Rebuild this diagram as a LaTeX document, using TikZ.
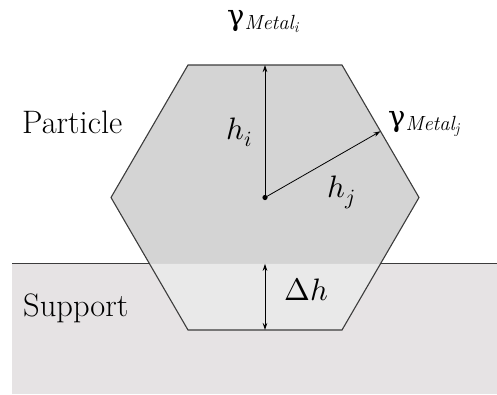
\documentclass[tikz,border=0pt]{standalone}
\usepackage{unicode-math}
\setmathfont{Latin Modern Math}
\newfontfamily\grego{DejaVu Serif}
\usetikzlibrary{arrows.meta,calc}

\definecolor{partcol}{HTML}{D4D4D4}
\definecolor{partlow}{HTML}{E9E9E9}
\definecolor{supcol}{HTML}{E6E3E4}
\definecolor{bordacol}{HTML}{3C3C3C}

\newcommand{\gmetal}[1]{{\grego\fontsize{29}{29}\selectfont γ}\raisebox{-4pt}{\fontsize{20.5}{20}\selectfont\itshape Metal\raisebox{-3pt}{\fontsize{15}{15}\selectfont #1}}}

\begin{document}
\begin{tikzpicture}[x=1pt,y=-1pt,
  borda/.style={draw=bordacol, line width=1.1pt, line join=miter},
  seta/.style={line width=0.8pt, -{Stealth[length=7pt,width=4.5pt]}},
  rotulo/.style={font=\fontsize{32.5}{36}\selectfont, inner sep=0pt, anchor=base west},
  letra/.style={font=\fontsize{31}{36}\selectfont, inner sep=0pt, anchor=base west}]
\useasboundingbox (0,0) rectangle (497,394);
% Suporte
\fill[supcol] (12,263.75) rectangle (497,394);

% Vertices do hexagono
\coordinate (c) at (265,197.5);
\coordinate (tl) at (188,65);
\coordinate (tr) at (342,65);
\coordinate (r) at (419,197.5);
\coordinate (br) at (342,330);
\coordinate (bl) at (188,330);
\coordinate (l) at (111,197.5);
\coordinate (sl) at ($(l)!0.5!(bl)$);
\coordinate (sr) at ($(r)!0.5!(br)$);

% Particula (parte de cima e parte dentro do suporte)
\fill[partcol] (tl) -- (tr) -- (r) -- (sr) -- (sl) -- (l) -- cycle;
\fill[partlow] (sl) -- (sr) -- (br) -- (bl) -- cycle;
\draw[borda] (tl) -- (tr) -- (r) -- (br) -- (bl) -- (l) -- cycle;
\draw[borda] (12,263.75) -- (sl);
\draw[borda] (sr) -- (497,263.75);

% Alturas
\coordinate (ti) at ($(tl)!0.5!(tr)$);
\coordinate (tj) at ($(tr)!0.5!(r)$);
\coordinate (sm) at ($(sl)!0.5!(sr)$);
\coordinate (bm) at ($(bl)!0.5!(br)$);
\draw[seta] (c) -- (ti);
\draw[seta] (c) -- (tj);
\draw[seta, {Stealth[length=7pt,width=4.5pt]}-{Stealth[length=7pt,width=4.5pt]}] (sm) -- (bm);
\fill (c) circle (2.6pt);

% Rotulos
\node[rotulo] (part) at (22,133) {Particle};
\node[rotulo] (sup) at (23,316) {Support};
\node[letra] (hi) at (226,139) {$h_i$};
\node[letra] (hj) at (327,197) {$h_j$};
\node[letra] (dh) at (284,300) {$\Delta h$};
\node[inner sep=0pt, anchor=base west] (gi) at (227,25) {\gmetal{i}};
\node[inner sep=0pt, anchor=base west] (gj) at (388,126) {\gmetal{j}};
\end{tikzpicture}
\end{document}
